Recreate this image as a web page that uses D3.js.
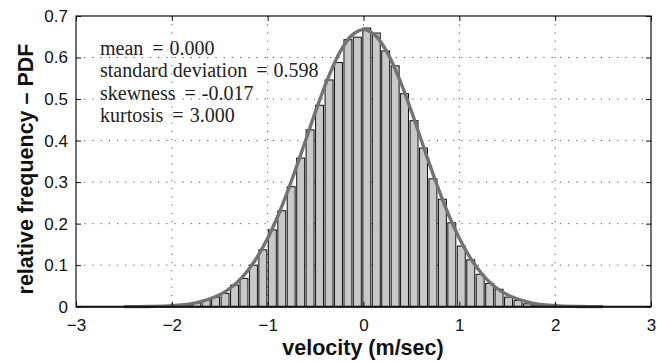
<!DOCTYPE html>
<html><head><meta charset="utf-8">
<script src="https://cdn.jsdelivr.net/npm/d3@7"></script>
<style>html,body{margin:0;padding:0;background:#fff;}</style>
</head><body>
<svg id="c" width="657" height="363"></svg>
<script>
// Histogram bin centers (m/sec) and relative frequencies
const binWidth = 0.0986;
const binCenters = [-1.935,-1.836,-1.738,-1.639,-1.541,-1.442,-1.343,-1.245,-1.146,-1.048,
  -0.949,-0.850,-0.752,-0.653,-0.555,-0.456,-0.357,-0.259,-0.160,-0.062,
  0.037,0.136,0.234,0.333,0.431,0.530,0.629,0.727,0.826,0.924,
  1.023,1.122,1.220,1.319,1.417,1.516,1.615,1.713,1.812,1.910];
const binValues = [0.002,0.004,0.009,0.015,0.023,0.032,0.052,0.068,0.100,0.137,
  0.185,0.231,0.289,0.358,0.426,0.485,0.546,0.588,0.643,0.649,
  0.671,0.659,0.616,0.580,0.513,0.448,0.382,0.308,0.259,0.202,
  0.146,0.113,0.078,0.056,0.042,0.023,0.015,0.007,0.004,0.002];
// Fitted PDF curve points
const curveX = [-2.5,-2.25,-2,-1.75,-1.5,-1.375,-1.25,-1.125,-1,-0.875,-0.75,-0.625,-0.5,-0.375,-0.25,-0.125,0,
  0.125,0.25,0.375,0.5,0.625,0.75,0.875,1,1.125,1.25,1.375,1.5,1.75,2,2.25,2.5];
const curveY = [0.0001,0.0006,0.0025,0.0092,0.0287,0.0474,0.0750,0.1137,0.1648,0.2287,0.3038,0.3863,0.4703,0.5480,0.6113,0.6527,0.6671,
  0.6527,0.6113,0.5480,0.4703,0.3863,0.3038,0.2287,0.1648,0.1137,0.0750,0.0474,0.0287,0.0092,0.0025,0.0006,0.0001];
const xTicks = [-3,-2,-1,0,1,2,3];
const yTicks = [0,0.1,0.2,0.3,0.4,0.5,0.6,0.7];
const statLabels = ["mean","standard deviation","skewness","kurtosis"];
const statValues = ["0.000","0.598","-0.017","3.000"];

const svg = d3.select("#c");
const L=76, R=651, T=16, B=306.7;
const x = d3.scaleLinear().domain([-3,3]).range([L,R]);
const y = d3.scaleLinear().domain([0,0.7]).range([B,T]);

// grid
const g = svg.append("g");
g.selectAll("line.gx").data(xTicks.slice(1,-1)).enter().append("line")
  .attr("x1",d=>x(d)).attr("x2",d=>x(d)).attr("y1",T).attr("y2",B)
  .attr("stroke","#555").attr("stroke-width",1).attr("stroke-dasharray","1.2,7");
g.selectAll("line.gy").data(yTicks.slice(1,-1)).enter().append("line")
  .attr("x1",L).attr("x2",R).attr("y1",d=>y(d)).attr("y2",d=>y(d))
  .attr("stroke","#555").attr("stroke-width",1).attr("stroke-dasharray","1.2,7");

// stats text
const tx = svg.append("text").attr("font-family","'Liberation Serif','DejaVu Serif',serif")
  .attr("font-size",20).attr("fill","#222");
statLabels.forEach((s,i)=>{
  tx.append("tspan").attr("x",100).attr("y",55+i*22.3).text(s);
  tx.append("tspan").attr("dx",9).text("=");
  tx.append("tspan").attr("dx",6).text(statValues[i]);
});

// bars
const bw = x(binWidth)-x(0);
svg.append("g").selectAll("rect").data(binCenters).enter().append("rect")
  .attr("x",(d)=>x(d)-bw/2+0.5)
  .attr("width",bw-1.5)
  .attr("y",(d,i)=>y(binValues[i]))
  .attr("height",(d,i)=>B-y(binValues[i]))
  .attr("fill","#c8c8c8").attr("stroke","#111").attr("stroke-width",1);

// curve
const line = d3.line().x(d=>x(d[0])).y(d=>y(d[1])).curve(d3.curveCatmullRom);
svg.append("path").datum(curveX.map((v,i)=>[v,curveY[i]]))
  .attr("d",line).attr("fill","none").attr("stroke","#737373").attr("stroke-width",3.4);

// frame
svg.append("rect").attr("x",L).attr("y",T).attr("width",R-L).attr("height",B-T)
  .attr("fill","none").attr("stroke","#111").attr("stroke-width",1.2);
svg.append("line").attr("x1",L).attr("x2",R).attr("y1",B).attr("y2",B).attr("stroke","#111").attr("stroke-width",2);

// axes (ticks inward)
const ax = svg.append("g").attr("transform",`translate(0,${B})`)
  .call(d3.axisBottom(x).tickValues(xTicks).tickSizeInner(-5).tickSizeOuter(0).tickPadding(12)
    .tickFormat(d=>d<0?"\u2212"+Math.abs(d):String(d)));
const ay = svg.append("g").attr("transform",`translate(${L},0)`)
  .call(d3.axisLeft(y).tickValues(yTicks).tickSizeInner(-5).tickSizeOuter(0).tickPadding(8)
    .tickFormat(d=>d===0?"0":d3.format(".1f")(d)));
const axt = svg.append("g").attr("transform",`translate(0,${T})`)
  .call(d3.axisTop(x).tickValues(xTicks).tickSizeInner(-5).tickSizeOuter(0).tickFormat(""));
const ayr = svg.append("g").attr("transform",`translate(${R},0)`)
  .call(d3.axisRight(y).tickValues(yTicks).tickSizeInner(-5).tickSizeOuter(0).tickFormat(""));
[ax,ay,axt,ayr].forEach(a=>{
  a.select(".domain").remove();
  a.selectAll("line").attr("stroke","#111");
  a.selectAll("text").attr("font-family","'Liberation Sans',Arial,sans-serif").attr("font-size",17).attr("fill","#111");
});

// axis labels
svg.append("text").attr("x",363).attr("y",355).attr("text-anchor","middle")
  .attr("font-family","'Liberation Sans',Arial,sans-serif").attr("font-weight","bold").attr("font-size",21.5)
  .attr("fill","#111").text("velocity (m/sec)");
svg.append("text").attr("transform","translate(33,169) rotate(-90)").attr("text-anchor","middle")
  .attr("font-family","'Liberation Sans',Arial,sans-serif").attr("font-weight","bold").attr("font-size",21.5)
  .attr("fill","#111").text("relative frequency \u2013 PDF");
</script>
</body></html>
